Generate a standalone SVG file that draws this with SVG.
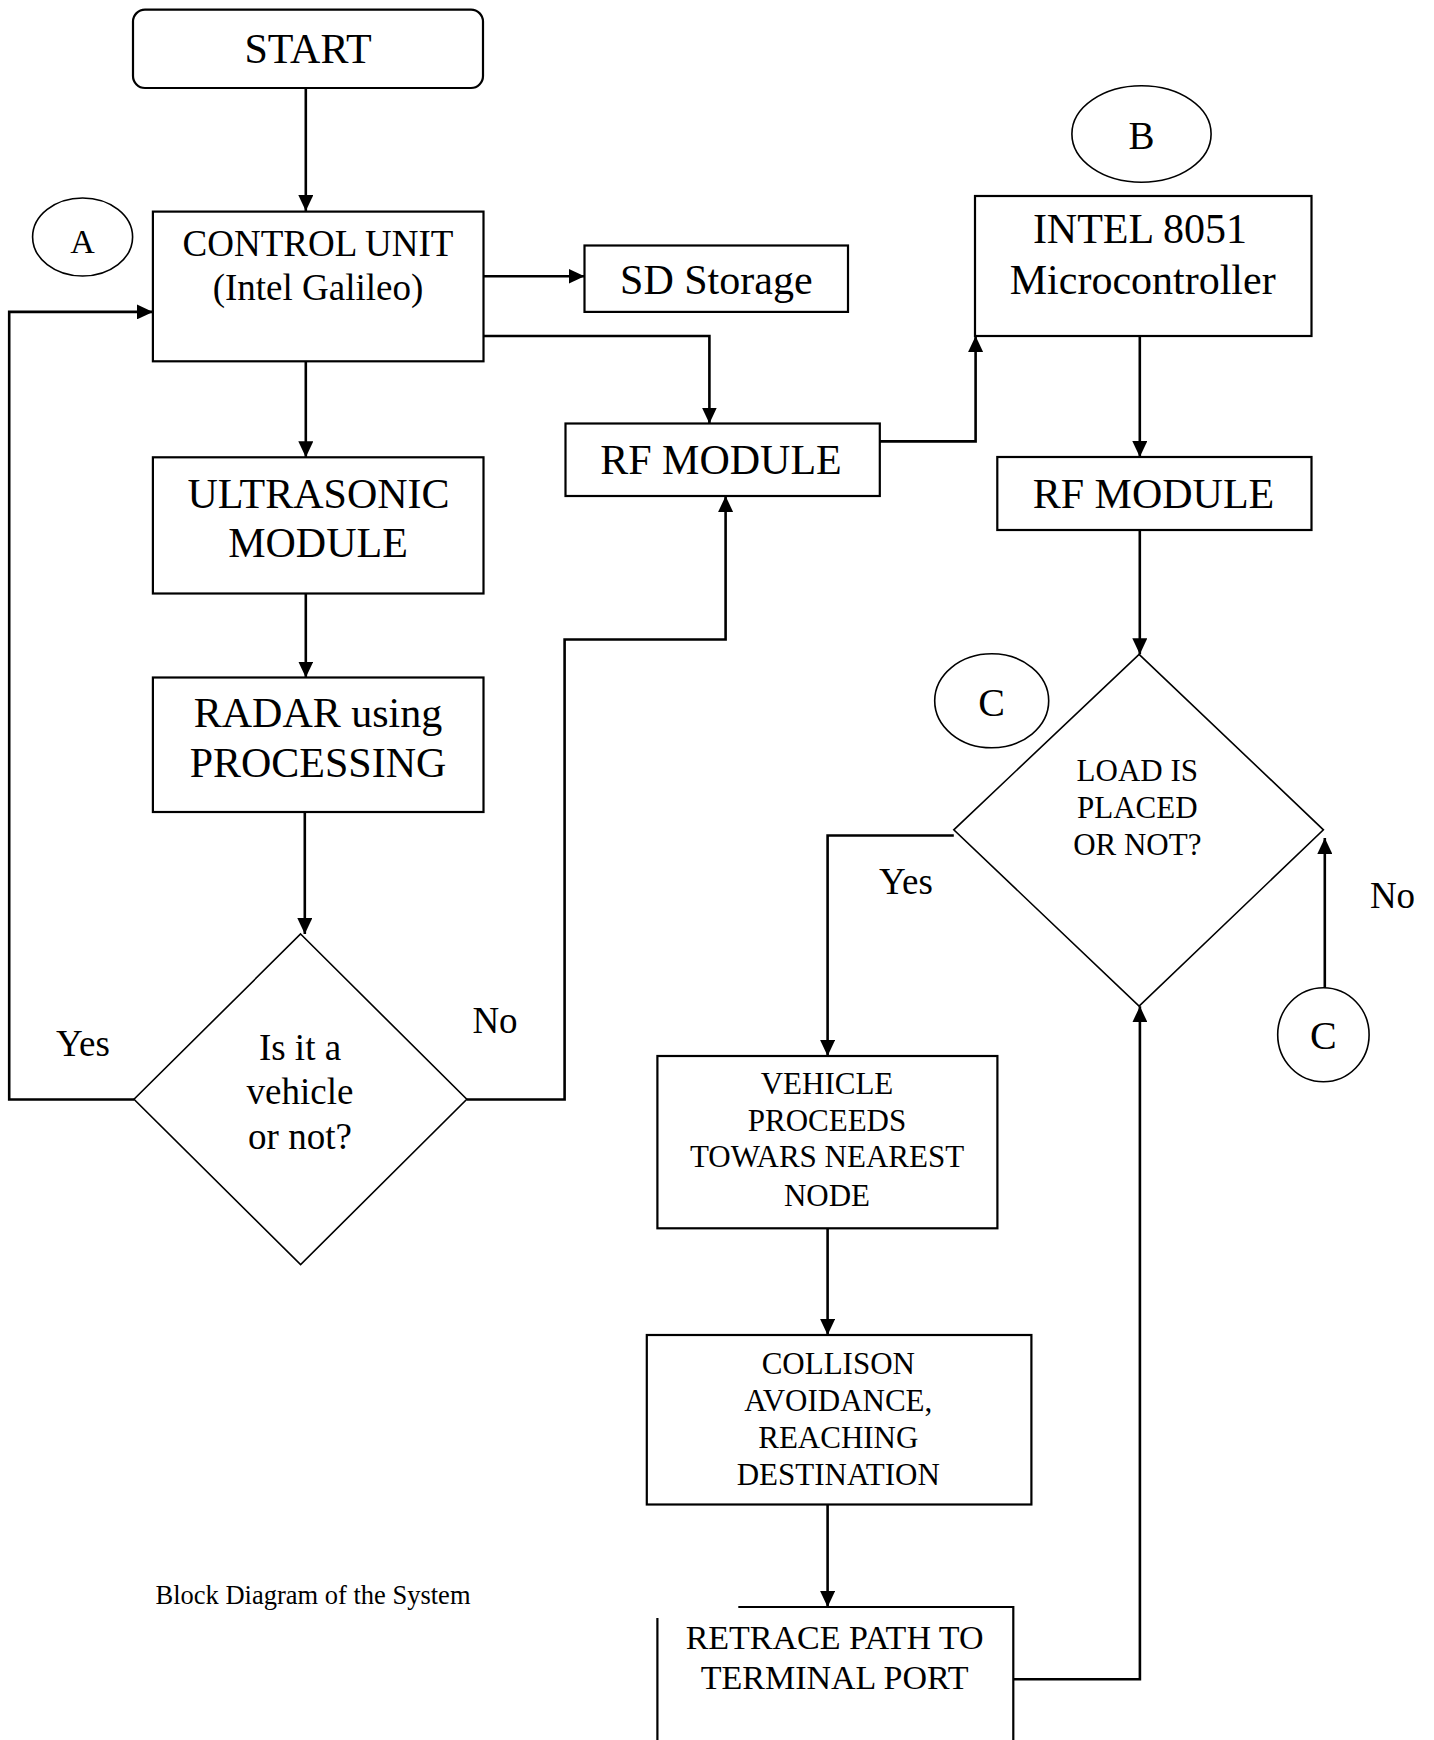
<svg xmlns="http://www.w3.org/2000/svg" width="1434" height="1740" viewBox="0 0 1434 1740">
<style>
.box{fill:none;stroke:#000;stroke-width:2.2}
.thin{fill:none;stroke:#000;stroke-width:1.6}
.con{fill:none;stroke:#000;stroke-width:2.6}
text{font-family:"Liberation Serif","Times New Roman",serif;fill:#000;text-anchor:middle}
.t42{font-size:42px}
.t37{font-size:37px}
.t31{font-size:31px}
.t34{font-size:34px}
</style>
<defs>
<marker id="arr" markerUnits="userSpaceOnUse" markerWidth="16" markerHeight="15" refX="16" refY="7.5" orient="auto">
<path d="M0,0 L16,7.5 L0,15 z" fill="#000"/>
</marker>
</defs>
<rect width="1434" height="1740" fill="#fff"/>

<g id="connectors">
<path class="con" d="M305.8,88 V211" marker-end="url(#arr)"/>
<path class="con" d="M483.5,276.3 H584.5" marker-end="url(#arr)"/>
<path class="con" d="M483.5,336 H709.4 V423.5" marker-end="url(#arr)"/>
<path class="con" d="M305.8,361.3 V457.3" marker-end="url(#arr)"/>
<path class="con" d="M305.8,593.5 V677.5" marker-end="url(#arr)"/>
<path class="con" d="M304.8,812 V934" marker-end="url(#arr)"/>
<path class="con" d="M134,1099.5 H9.2 V311.9 H152.9" marker-end="url(#arr)"/>
<path class="con" d="M466.8,1099.5 H564.6 V639.5 H725.6 V496" marker-end="url(#arr)"/>
<path class="con" d="M879.8,441.4 H975.6 V336" marker-end="url(#arr)"/>
<path class="con" d="M1139.8,336 V457" marker-end="url(#arr)"/>
<path class="con" d="M1139.8,530 V654.3" marker-end="url(#arr)"/>
<path class="con" d="M953.8,835.5 H827.6 V1056" marker-end="url(#arr)"/>
<path class="con" d="M1324.8,987.8 V838" marker-end="url(#arr)"/>
<path class="con" d="M827.6,1228.3 V1335" marker-end="url(#arr)"/>
<path class="con" d="M827.6,1504.5 V1607" marker-end="url(#arr)"/>
<path class="con" d="M1013.3,1679.3 H1139.9 V1006.2" marker-end="url(#arr)"/>
</g>

<g id="start">
<rect class="box" x="133" y="9.6" width="350" height="78.4" rx="12"/>
<text class="t42" x="308" y="63">START</text>
</g>

<g id="circleA">
<ellipse class="thin" cx="82.6" cy="237" rx="50" ry="39"/>
<text x="82.6" y="253" style="font-size:34px">A</text>
</g>

<g id="control-unit">
<rect class="box" x="152.9" y="211.6" width="330.6" height="149.7"/>
<text class="t37" x="318" y="256.4">CONTROL UNIT</text>
<text class="t37" x="318" y="300.4">(Intel Galileo)</text>
</g>

<g id="sd-storage">
<rect class="box" x="584.5" y="245.5" width="263.5" height="66.4"/>
<text class="t42" x="716.3" y="293.9">SD Storage</text>
</g>

<g id="rf-module-1">
<rect class="box" x="565.5" y="423.5" width="314.3" height="72.5"/>
<text class="t42" x="721" y="474.2">RF MODULE</text>
</g>

<g id="circleB">
<ellipse class="thin" cx="1141.5" cy="134" rx="69.6" ry="48.2"/>
<text x="1141.5" y="148.6" style="font-size:39px">B</text>
</g>

<g id="intel-8051">
<rect class="box" x="975" y="196" width="336.5" height="140"/>
<text class="t42" x="1140" y="243.2">INTEL 8051</text>
<text class="t42" x="1142.7" y="293.9">Microcontroller</text>
</g>

<g id="rf-module-2">
<rect class="box" x="997.3" y="457" width="314.2" height="73"/>
<text class="t42" x="1153.5" y="508.2">RF MODULE</text>
</g>

<g id="ultrasonic">
<rect class="box" x="152.9" y="457.3" width="330.6" height="136.2"/>
<text class="t42" x="318.5" y="507.8">ULTRASONIC</text>
<text class="t42" x="318" y="556.8">MODULE</text>
</g>

<g id="radar">
<rect class="box" x="152.9" y="677.5" width="330.6" height="134.5"/>
<text class="t42" x="318" y="726.6">RADAR using</text>
<text class="t42" x="318" y="776.6">PROCESSING</text>
</g>

<g id="decision-vehicle">
<polygon class="thin" points="300.6,934 466.8,1099.3 300.6,1264.6 134,1099.3"/>
<text class="t37" x="300" y="1060.3">Is it a</text>
<text class="t37" x="300" y="1104">vehicle</text>
<text class="t37" x="300" y="1149">or not?</text>
</g>
<text class="t37" x="83" y="1055.7">Yes</text>
<text class="t37" x="495" y="1032.8">No</text>

<g id="circleC1">
<ellipse class="thin" cx="991.7" cy="700.8" rx="57" ry="47"/>
<text x="991.7" y="716.3" style="font-size:40px">C</text>
</g>

<g id="decision-load">
<polygon class="thin" points="1139.1,654.3 1323.4,829.8 1139.1,1006.2 953.8,829.8"/>
<text class="t31" x="1137.3" y="780.8">LOAD IS</text>
<text class="t31" x="1137.3" y="817.6">PLACED</text>
<text class="t31" x="1137.3" y="855.1">OR NOT?</text>
</g>
<text class="t37" x="906" y="893.9">Yes</text>
<text class="t37" x="1392.5" y="908.2">No</text>

<g id="circleC2">
<ellipse class="thin" cx="1323.4" cy="1034.7" rx="45.7" ry="47"/>
<text x="1323.4" y="1049" style="font-size:40px">C</text>
</g>

<g id="vehicle-proceeds">
<rect class="box" x="657.4" y="1056" width="340" height="172.3"/>
<text class="t31" x="827" y="1093.9">VEHICLE</text>
<text class="t31" x="827" y="1130.7">PROCEEDS</text>
<text class="t31" x="827" y="1167.4">TOWARS NEAREST</text>
<text class="t31" x="827" y="1206.2">NODE</text>
</g>

<g id="collision">
<rect class="box" x="646.8" y="1335" width="384.6" height="169.5"/>
<text class="t31" x="838.3" y="1374.2">COLLISON</text>
<text class="t31" x="838.3" y="1410.7">AVOIDANCE,</text>
<text class="t31" x="838.3" y="1447.8">REACHING</text>
<text class="t31" x="838.3" y="1485.3">DESTINATION</text>
</g>

<g id="retrace">
<path class="box" d="M738.3,1607 H1013.3 V1742 M657.4,1618 V1742"/>
<text class="t34" x="834.6" y="1649.4">RETRACE PATH TO</text>
<text class="t34" x="834.6" y="1689.2">TERMINAL PORT</text>
</g>

<text x="313" y="1603.5" style="font-size:26.5px">Block Diagram of the System</text>
</svg>
